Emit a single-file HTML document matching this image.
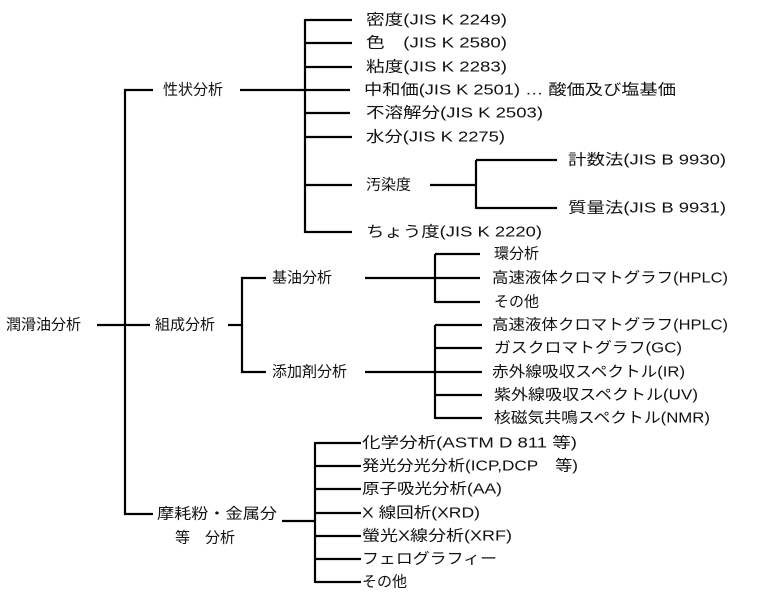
<!DOCTYPE html>
<html><head><meta charset="utf-8"><style>
html,body{margin:0;padding:0;background:#fff;}
svg{display:block;}
text{font-family:"Liberation Sans","Noto Sans CJK JP",sans-serif;font-size:15px;fill:#111;dominant-baseline:central;}
</style></head><body>
<svg width="760" height="606" viewBox="0 0 760 606" xmlns="http://www.w3.org/2000/svg">
<g stroke="#000" stroke-width="2.2" fill="none">
<line x1="97" y1="325" x2="150" y2="325"/>
<line x1="125" y1="89" x2="125" y2="515"/>
<line x1="124" y1="90" x2="153" y2="90"/>
<line x1="124" y1="514" x2="153" y2="514"/>
<line x1="240" y1="90" x2="350" y2="90"/>
<line x1="305" y1="19" x2="305" y2="233"/>
<line x1="305" y1="20" x2="352" y2="20"/>
<line x1="305" y1="43" x2="352" y2="43"/>
<line x1="305" y1="67" x2="352" y2="67"/>
<line x1="305" y1="113" x2="350" y2="113"/>
<line x1="305" y1="137" x2="352" y2="137"/>
<line x1="305" y1="185" x2="352" y2="185"/>
<line x1="305" y1="232" x2="352" y2="232"/>
<line x1="430" y1="185" x2="477" y2="185"/>
<line x1="476" y1="160" x2="476" y2="209"/>
<line x1="476" y1="160" x2="557" y2="160"/>
<line x1="476" y1="208" x2="557" y2="208"/>
<line x1="228" y1="325" x2="242" y2="325"/>
<line x1="242" y1="277" x2="242" y2="373"/>
<line x1="241" y1="278" x2="266" y2="278"/>
<line x1="241" y1="372" x2="266" y2="372"/>
<line x1="365" y1="278" x2="480" y2="278"/>
<line x1="435" y1="254" x2="435" y2="303"/>
<line x1="435" y1="254" x2="480" y2="254"/>
<line x1="435" y1="302" x2="480" y2="302"/>
<line x1="365" y1="372" x2="482" y2="372"/>
<line x1="435" y1="325" x2="435" y2="419"/>
<line x1="435" y1="325" x2="482" y2="325"/>
<line x1="435" y1="348" x2="482" y2="348"/>
<line x1="435" y1="395" x2="482" y2="395"/>
<line x1="435" y1="418" x2="482" y2="418"/>
<line x1="282" y1="521" x2="315" y2="521"/>
<line x1="315" y1="442" x2="315" y2="583"/>
<line x1="315" y1="443" x2="361" y2="443"/>
<line x1="315" y1="466" x2="361" y2="466"/>
<line x1="315" y1="489" x2="361" y2="489"/>
<line x1="315" y1="513" x2="361" y2="513"/>
<line x1="315" y1="536" x2="361" y2="536"/>
<line x1="315" y1="559" x2="361" y2="559"/>
<line x1="315" y1="582" x2="361" y2="582"/>
</g>
<text x="6" y="325">潤滑油分析</text>
<text x="163" y="90">性状分析</text>
<text x="155" y="325">組成分析</text>
<text x="157" y="514" textLength="120" lengthAdjust="spacingAndGlyphs">摩耗粉・金属分</text>
<text x="175" y="538">等　分析</text>
<text x="366" y="20" textLength="141" lengthAdjust="spacingAndGlyphs">密度(JIS K 2249)</text>
<text x="366" y="43" textLength="141" lengthAdjust="spacingAndGlyphs">色　(JIS K 2580)</text>
<text x="366" y="67" textLength="141" lengthAdjust="spacingAndGlyphs">粘度(JIS K 2283)</text>
<text x="364" y="90" textLength="312" lengthAdjust="spacingAndGlyphs">中和価(JIS K 2501) … 酸価及び塩基価</text>
<text x="366" y="113" textLength="177" lengthAdjust="spacingAndGlyphs">不溶解分(JIS K 2503)</text>
<text x="366" y="137" textLength="139" lengthAdjust="spacingAndGlyphs">水分(JIS K 2275)</text>
<text x="366" y="185">汚染度</text>
<text x="568" y="160" textLength="158" lengthAdjust="spacingAndGlyphs">計数法(JIS B 9930)</text>
<text x="568" y="208" textLength="158" lengthAdjust="spacingAndGlyphs">質量法(JIS B 9931)</text>
<text x="366" y="232" textLength="176" lengthAdjust="spacingAndGlyphs">ちょう度(JIS K 2220)</text>
<text x="272" y="278">基油分析</text>
<text x="272" y="372">添加剤分析</text>
<text x="494" y="254">環分析</text>
<text x="492" y="278" textLength="236" lengthAdjust="spacingAndGlyphs">高速液体クロマトグラフ(HPLC)</text>
<text x="494" y="302">その他</text>
<text x="492" y="325" textLength="236" lengthAdjust="spacingAndGlyphs">高速液体クロマトグラフ(HPLC)</text>
<text x="494" y="348" textLength="188" lengthAdjust="spacingAndGlyphs">ガスクロマトグラフ(GC)</text>
<text x="492" y="372" textLength="193" lengthAdjust="spacingAndGlyphs">赤外線吸収スペクトル(IR)</text>
<text x="494" y="395" textLength="204" lengthAdjust="spacingAndGlyphs">紫外線吸収スペクトル(UV)</text>
<text x="494" y="418" textLength="216" lengthAdjust="spacingAndGlyphs">核磁気共鳴スペクトル(NMR)</text>
<text x="362" y="443" textLength="215" lengthAdjust="spacingAndGlyphs">化学分析(ASTM D 811 等)</text>
<text x="362" y="466" textLength="216" lengthAdjust="spacingAndGlyphs">発光分光分析(ICP,DCP　等)</text>
<text x="362" y="489" textLength="140" lengthAdjust="spacingAndGlyphs">原子吸光分析(AA)</text>
<text x="362" y="513" textLength="118" lengthAdjust="spacingAndGlyphs">X 線回析(XRD)</text>
<text x="362" y="536" textLength="150" lengthAdjust="spacingAndGlyphs">螢光X線分析(XRF)</text>
<text x="362" y="559" textLength="135" lengthAdjust="spacingAndGlyphs">フェログラフィー</text>
<text x="362" y="582">その他</text>
</svg>
</body></html>
